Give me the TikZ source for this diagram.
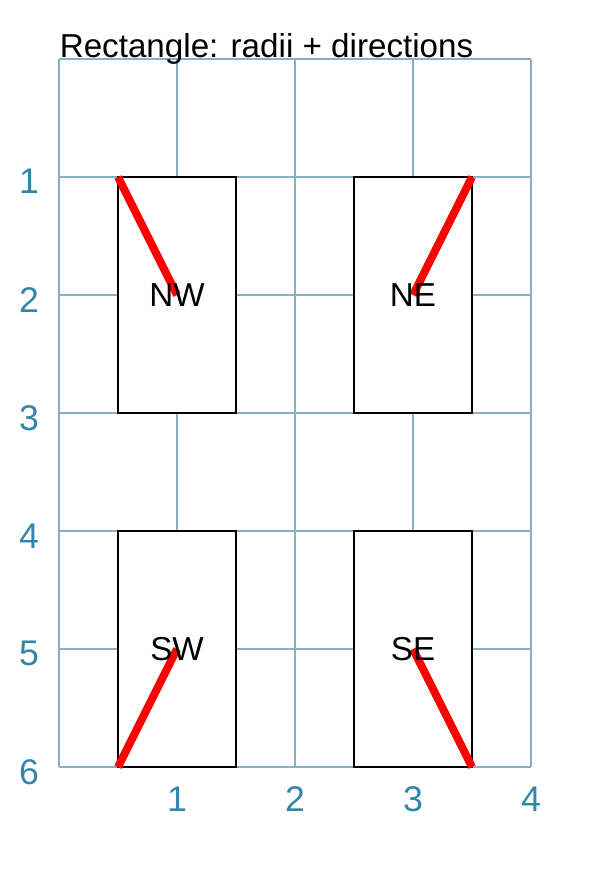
\documentclass[tikz,border=0pt]{standalone}
\usepackage{fontspec}
\setmainfont{Liberation Sans}
\definecolor{gridc}{RGB}{135,175,198}
\definecolor{labc}{RGB}{49,134,171}
\definecolor{redc}{RGB}{255,0,0}
\tikzset{
  gridline/.style={draw=gridc, line width=0.3pt},
  boxnode/.style={draw=black, fill=white, line width=0.45pt, minimum width=1cm, minimum height=2cm, inner sep=0pt, outer sep=0pt},
  boxtext/.style={inner sep=0pt, font=\fontsize{8pt}{9.6pt}\selectfont},
  ray/.style={draw=redc, line width=1.9pt},
  axlab/.style={text=labc, inner sep=0pt, font=\fontsize{8.6pt}{10pt}\selectfont},
  titletext/.style={inner sep=0pt, anchor=base west, font=\fontsize{8pt}{9.6pt}\selectfont}
}
\begin{document}
\begin{tikzpicture}
\useasboundingbox (-0.5,0.5) rectangle (4.695,-6.915);
\draw[gridline] (0,0) grid (4,-6);
\node[titletext] (title) at (0,0.01) {Rectangle: radii + directions};
% boxes
\node[boxnode] (nw) at (1,-2) {};
\node[boxnode] (ne) at (3,-2) {};
\node[boxnode] (sw) at (1,-5) {};
\node[boxnode] (se) at (3,-5) {};
% rays
\draw[ray] (nw.north west) -- (nw.center);
\draw[ray] (ne.north east) -- (ne.center);
\draw[ray] (sw.south west) -- (sw.center);
\draw[ray] (se.south east) -- (se.center);
% labels
\node[boxtext] (tnw) at (nw.center) {NW};
\node[boxtext] (tne) at (ne.center) {NE};
\node[boxtext] (tsw) at (sw.center) {SW};
\node[boxtext] (tse) at (se.center) {SE};
% axis labels
\foreach \i in {1,2,3,4} {
  \node[axlab] (x\i) at (\i,-6.27) {\i};
}
\foreach \i in {1,2,3,4,5,6} {
  \node[axlab] (y\i) at (-0.254,-\i-0.04) {\i};
}
\end{tikzpicture}
\end{document}
